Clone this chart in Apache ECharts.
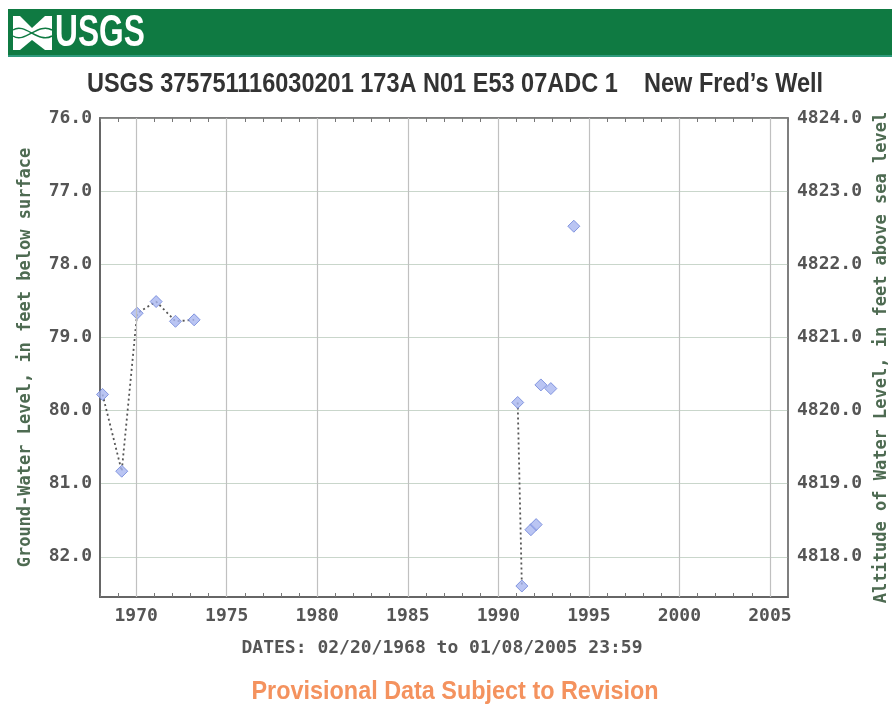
<!DOCTYPE html>
<html>
<head>
<meta charset="utf-8">
<title>New Fred's Well</title>
<script src="https://cdn.jsdelivr.net/npm/echarts@6/dist/echarts.min.js"></script>
<style>
  html, body { margin: 0; padding: 0; background: #fff; }
  #chart { width: 892px; height: 709px; }
</style>
</head>
<body>
<div id="chart"></div>
<script>
// measured points (decimal year, depth below surface in ft)
const years = [1968.14, 1969.2, 1970.05, 1971.1, 1972.17, 1973.2,
  1991.07, 1991.3, 1991.8, 1992.09, 1992.35, 1992.9, 1994.17]
const depths = [79.78, 80.83, 78.67, 78.51, 78.78, 78.76,
  79.89, 82.4, 81.63, 81.56, 79.65, 79.7, 77.48]
// which points are joined by the dotted line (-1 = not joined)
const lineGroup = [0, 0, 0, 0, 0, 0, 1, 1, -1, -1, -1, -1, -1]

const yearTicks = [1970, 1975, 1980, 1985, 1990, 1995, 2000, 2005]
const depthTicks = [76, 77, 78, 79, 80, 81, 82]
const depthLabels = ['76.0', '77.0', '78.0', '79.0', '80.0', '81.0', '82.0']
const altLabels = ['4824.0', '4823.0', '4822.0', '4821.0', '4820.0', '4819.0', '4818.0']

const monoFont = 'DejaVu Sans Mono'
const pts = years.map((y, i) => [y, depths[i]])

const groups = [...new Set(lineGroup.filter(g => g >= 0))]
const lineSeries = groups.map((g, k) => ({
  type: 'line',
  data: pts.filter((p, i) => lineGroup[i] === g),
  showSymbol: false,
  symbol: 'none',
  z: 2,
  silent: true,
  lineStyle: { color: '#555', width: 1.8, type: [2, 3] },
  markLine: k === 0 ? {
    silent: true,
    symbol: 'none',
    label: { show: false },
    lineStyle: { color: '#c0c0c0', width: 1.2, type: 'solid' },
    data: yearTicks.map(v => ({ xAxis: v }))
  } : undefined
}))

const chart = echarts.init(document.getElementById('chart'))
const option = {
  animation: false,
  grid: {
    left: 100, right: 104, top: 118, bottom: 112,
    outerBoundsMode: 'none',
    containLabel: false,
    show: true, borderColor: '#777', borderWidth: 1.5
  },
  xAxis: [
    {
      type: 'value', position: 'bottom', min: 1968, max: 2006, interval: 1,
      axisLine: { show: true, lineStyle: { color: '#666', width: 2 } },
      axisTick: { show: true, inside: true, length: 4, lineStyle: { color: '#777' } },
      splitLine: { show: false },
      axisLabel: {
        margin: 10,
        color: '#555',
        fontFamily: monoFont, fontWeight: 'bold', fontSize: 18,
        formatter: v => yearTicks.includes(v) ? String(v) : ''
      }
    },
    {
      type: 'value', position: 'top', min: 1968, max: 2006, interval: 1,
      axisLine: { show: true, lineStyle: { color: '#777', width: 1.5 } },
      axisTick: { show: true, inside: true, length: 4, lineStyle: { color: '#777' } },
      splitLine: { show: false },
      axisLabel: { show: false }
    }
  ],
  yAxis: [
    {
      type: 'value', position: 'left', inverse: true, min: 76, max: 82.55, interval: 1,
      name: 'Ground-Water Level, in feet below surface',
      nameLocation: 'middle', nameGap: 66,
      nameTextStyle: { color: '#4e6b52', fontFamily: monoFont, fontWeight: 'bold', fontSize: 17 },
      axisLine: { show: true, lineStyle: { color: '#666', width: 2 } },
      axisTick: { show: false },
      splitLine: { show: true, lineStyle: { color: '#c9d6cb', width: 1.2 } },
      axisLabel: {
        margin: 8, color: '#555',
        fontFamily: monoFont, fontWeight: 'bold', fontSize: 18,
        showMaxLabel: false,
        formatter: v => {
          const i = depthTicks.indexOf(v)
          return i < 0 ? '' : depthLabels[i]
        }
      }
    },
    {
      type: 'value', position: 'right', inverse: true, min: 76, max: 82.55, interval: 1,
      name: 'Altitude of Water Level, in feet above sea level',
      nameLocation: 'middle', nameGap: 84,
      nameTextStyle: { color: '#4e6b52', fontFamily: monoFont, fontWeight: 'bold', fontSize: 17 },
      axisLine: { show: true, lineStyle: { color: '#777', width: 1.5 } },
      axisTick: { show: false },
      splitLine: { show: false },
      axisLabel: {
        margin: 9, color: '#555',
        fontFamily: monoFont, fontWeight: 'bold', fontSize: 18,
        showMaxLabel: false,
        formatter: v => {
          const i = depthTicks.indexOf(v)
          return i < 0 ? '' : altLabels[i]
        }
      }
    }
  ],
  series: [
    ...lineSeries,
    {
      type: 'scatter',
      data: pts,
      z: 4,
      symbol: 'diamond',
      symbolSize: 12,
      itemStyle: { color: '#a9b7f0', borderColor: '#6b82d8', borderWidth: 1 }
    }
  ],
  graphic: [
    // header bar
    { type: 'rect', shape: { x: 8, y: 9, width: 884, height: 48 }, style: { fill: '#0f7a42' }, z: 1 },
    { type: 'rect', shape: { x: 8, y: 55, width: 884, height: 2 }, style: { fill: '#2f9a7c' }, z: 2 },
    // logo mark
    { type: 'polygon', shape: { points: [[13, 16], [52, 16], [52, 50], [13, 50]] }, style: { fill: '#fff' }, z: 2 },
    { type: 'polygon', shape: { points: [[20, 16], [45, 16], [32, 28]] }, style: { fill: '#0f7a42' }, z: 3 },
    { type: 'polygon', shape: { points: [[20, 50], [45, 50], [32, 40]] }, style: { fill: '#0f7a42' }, z: 3 },
    { type: 'bezierCurve', shape: { x1: 13, y1: 30, x2: 52, y2: 36, cpx1: 25, cpy1: 22, cpx2: 38, cpy2: 44 }, style: { stroke: '#0f7a42', lineWidth: 1.5, fill: null }, z: 3 },
    { type: 'bezierCurve', shape: { x1: 13, y1: 36, x2: 52, y2: 30, cpx1: 25, cpy1: 44, cpx2: 38, cpy2: 22 }, style: { stroke: '#0f7a42', lineWidth: 1.5, fill: null }, z: 3 },
    {
      type: 'text', x: 55, y: 34, scaleX: 0.72, z: 3,
      style: { text: 'USGS', fill: '#fff', font: 'bold 44px "Liberation Sans"', textVerticalAlign: 'middle' }
    },
    // title
    {
      type: 'text', x: 455, y: 84, scaleX: 0.84, z: 3,
      style: {
        text: 'USGS 375751116030201 173A N01 E53 07ADC 1    New Fred\u2019s Well',
        fill: '#333', font: 'bold 28px "Liberation Sans"',
        textAlign: 'center', textVerticalAlign: 'middle'
      }
    },
    // date range
    {
      type: 'text', x: 442, y: 648, z: 3,
      style: {
        text: 'DATES: 02/20/1968 to 01/08/2005 23:59',
        fill: '#555', font: 'bold 18px "DejaVu Sans Mono"',
        textAlign: 'center', textVerticalAlign: 'middle'
      }
    },
    {
      type: 'text', x: 455, y: 692, scaleX: 0.9, z: 3,
      style: {
        text: 'Provisional Data Subject to Revision',
        fill: '#f4925e', font: 'bold 26px "Liberation Sans"',
        textAlign: 'center', textVerticalAlign: 'middle'
      }
    }
  ]
}

option && chart.setOption(option)
</script>
</body>
</html>
